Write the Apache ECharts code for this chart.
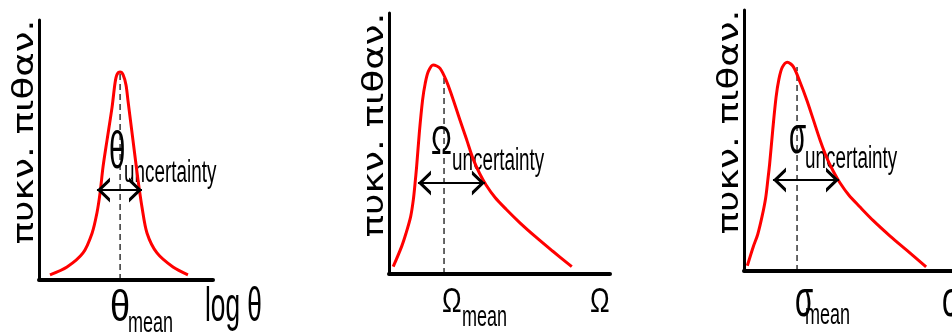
<!DOCTYPE html>
<html>
<head>
<meta charset="utf-8">
<script src="https://cdn.jsdelivr.net/npm/echarts@6/dist/echarts.min.js"></script>
<style>
  html, body { margin: 0; padding: 0; background: #fff; }
  #c { width: 952px; height: 334px; }
</style>
</head>
<body>
<div id="c"></div>
<script>
// Probability density of the (log) parameter θ – roughly symmetric
const thetaX = [0.63, 1.61, 2.53, 3.05, 3.33, 3.51, 3.68, 3.91, 4.20, 4.37, 4.48, 4.66, 4.83, 5.00, 5.11, 5.40, 5.69, 5.92, 6.21, 6.78, 7.70, 8.56];
const thetaY = [0.02, 0.05, 0.104, 0.18, 0.258, 0.335, 0.435, 0.538, 0.665, 0.758, 0.79, 0.80, 0.79, 0.75, 0.692, 0.538, 0.385, 0.28, 0.18, 0.104, 0.05, 0.02];

// Probability density of Ω – right-skewed
const omegaX = [0.19, 0.57, 0.77, 0.98, 1.10, 1.18, 1.25, 1.37, 1.52, 1.64, 1.78, 2.00, 2.31, 2.61, 2.91, 3.21, 3.52, 3.81, 4.10, 4.40, 4.80, 5.30, 5.90, 6.60, 7.40, 8.27];
const omegaY = [0.028, 0.105, 0.156, 0.220, 0.284, 0.348, 0.411, 0.539, 0.667, 0.731, 0.776, 0.801, 0.788, 0.737, 0.667, 0.590, 0.513, 0.440, 0.385, 0.340, 0.293, 0.248, 0.198, 0.145, 0.088, 0.028];

// Probability density of σ – right-skewed
const sigmaX = [0.15, 0.42, 0.62, 0.82, 0.98, 1.08, 1.16, 1.30, 1.45, 1.58, 1.73, 1.96, 2.23, 2.53, 2.84, 3.14, 3.44, 3.74, 4.04, 4.34, 4.74, 5.25, 5.85, 6.61, 7.36, 8.24];
const sigmaY = [0.02, 0.093, 0.14, 0.21, 0.28, 0.35, 0.41, 0.54, 0.665, 0.735, 0.78, 0.80, 0.783, 0.725, 0.655, 0.579, 0.502, 0.435, 0.382, 0.338, 0.291, 0.245, 0.193, 0.134, 0.080, 0.016];

// Mean marker (dashed) and uncertainty span (double arrow) per panel
const meanX = [4.66, 2.49, 2.40];
const meanTop = [0.80, 0.755, 0.782];
const spreadLevel = [0.346, 0.349, 0.349];
const spreadFrom = [3.33, 1.31, 1.31];
const spreadTo = [5.92, 4.34, 4.30];

// Texts
const densityLabel = 'πυκν. πιθαν.';
const paramSymbols = ['θ', 'Ω', 'σ'];
const axisTitles = ['log θ', 'Ω', 'σ'];
const spreadSub = 'uncertainty';
const meanSub = 'mean';

const curvesX = [thetaX, omegaX, sigmaX];
const curvesY = [thetaY, omegaY, sigmaY];

// the third panel deliberately runs past the right edge of the canvas
const grids = [
  { left: 39, top: 20, width: 174, height: 260, outerBoundsMode: 'none' },
  { left: 389, top: 13, width: 221, height: 261, outerBoundsMode: 'none' },
  { left: 744, top: 10, width: 221, height: 261, outerBoundsMode: 'none' }
];

// open chevron head pointing "up"; the empty sub-path above it centres the tip on the line end
const chevron = 'path://M5,-10 L5,-10 M0,10 L5,0 L10,10 L8.3,10 L5,3.4 L1.7,10 Z';

const series = [];
for (let i = 0; i < 3; i++) {
  series.push({
    type: 'line', xAxisIndex: i, yAxisIndex: i,
    data: curvesX[i].map((x, k) => [x, curvesY[i][k]]),
    smooth: 0.3, symbol: 'none', silent: true,
    lineStyle: { color: '#ff0000', width: 3 }, z: 3
  });
  series.push({
    type: 'line', xAxisIndex: i, yAxisIndex: i,
    data: [[meanX[i], 0], [meanX[i], meanTop[i]]],
    symbol: 'none', silent: true,
    lineStyle: { color: '#000', width: 1.2, type: [6, 4] }, z: 2,
    markLine: {
      silent: true,
      symbol: [chevron, chevron],
      symbolSize: [25, 26],
      lineStyle: { color: '#000', width: 2.2, type: 'solid' },
      label: { show: false },
      data: [[{ coord: [spreadFrom[i], spreadLevel[i]] }, { coord: [spreadTo[i], spreadLevel[i]] }]]
    }
  });
}

const option = {
  animation: false,
  grid: grids,
  xAxis: grids.map((g, i) => ({
    gridIndex: i, type: 'value', min: 0, max: 10,
    axisLine: { show: true, onZero: false, lineStyle: { color: '#000', width: 4 } },
    axisTick: { show: false }, axisLabel: { show: false }, splitLine: { show: false }
  })),
  yAxis: grids.map((g, i) => ({
    gridIndex: i, type: 'value', min: 0, max: 1,
    axisLine: { show: true, onZero: false, lineStyle: { color: '#000', width: 3 } },
    axisTick: { show: false }, axisLabel: { show: false }, splitLine: { show: false }
  })),
  series: series
};

const chart = echarts.init(document.getElementById('c'));
chart.setOption(option);

// Annotation anchors in data units: [x (left edge), y (baseline), font size, vertical stretch]
const labelLayout = [
  { sym: [4.02, 0.415, 36, 1.45], unc: [4.89, 0.369, 23, 1.35], msym: [4.08, -0.170, 44, 1.0], mean: [5.11, -0.208, 22, 1.35], title: [9.54, -0.170, 32, 1.5] },
  { sym: [1.90, 0.448, 34, 1.2], unc: [2.85, 0.391, 23, 1.35], msym: [2.40, -0.157, 32, 1.1], mean: [3.30, -0.207, 22, 1.35], title: [9.10, -0.157, 32, 1.1] },
  { sym: [2.04, 0.437, 34, 1.5], unc: [2.76, 0.387, 23, 1.35], msym: [2.31, -0.188, 36, 1.45], mean: [2.76, -0.211, 22, 1.35], title: [8.96, -0.188, 36, 1.45] }
];

// narrow sans: regular Liberation Sans squeezed horizontally
const sansFamily = "'Liberation Sans', Arial, sans-serif";
const squeeze = 0.82;
const graphics = [];

function addText(i, str, spec) {
  const [x, y, f, s] = spec;
  const p = chart.convertToPixel({ gridIndex: i }, [x, y]);
  graphics.push({
    type: 'text', silent: true,
    x: p[0], y: p[1] - 0.35 * f * s,
    scaleX: squeeze, scaleY: s,
    style: {
      text: str, font: f + 'px ' + sansFamily, fill: '#000',
      align: 'left', verticalAlign: 'middle'
    }
  });
}

for (let i = 0; i < 3; i++) {
  const L = labelLayout[i];
  addText(i, paramSymbols[i], L.sym);
  addText(i, spreadSub, L.unc);
  addText(i, paramSymbols[i], L.msym);
  addText(i, meanSub, L.mean);
  addText(i, axisTitles[i], L.title);

  // rotated density label beside the vertical axis
  const g = grids[i];
  graphics.push({
    type: 'text', silent: true,
    x: g.left - 14, y: g.top + 112,
    rotation: Math.PI / 2,
    scaleX: 1.28,
    style: {
      text: densityLabel, font: "29px 'DejaVu Sans', sans-serif", fill: '#000',
      align: 'center', verticalAlign: 'middle'
    }
  });
}

chart.setOption({ graphic: graphics });
</script>
</body>
</html>
